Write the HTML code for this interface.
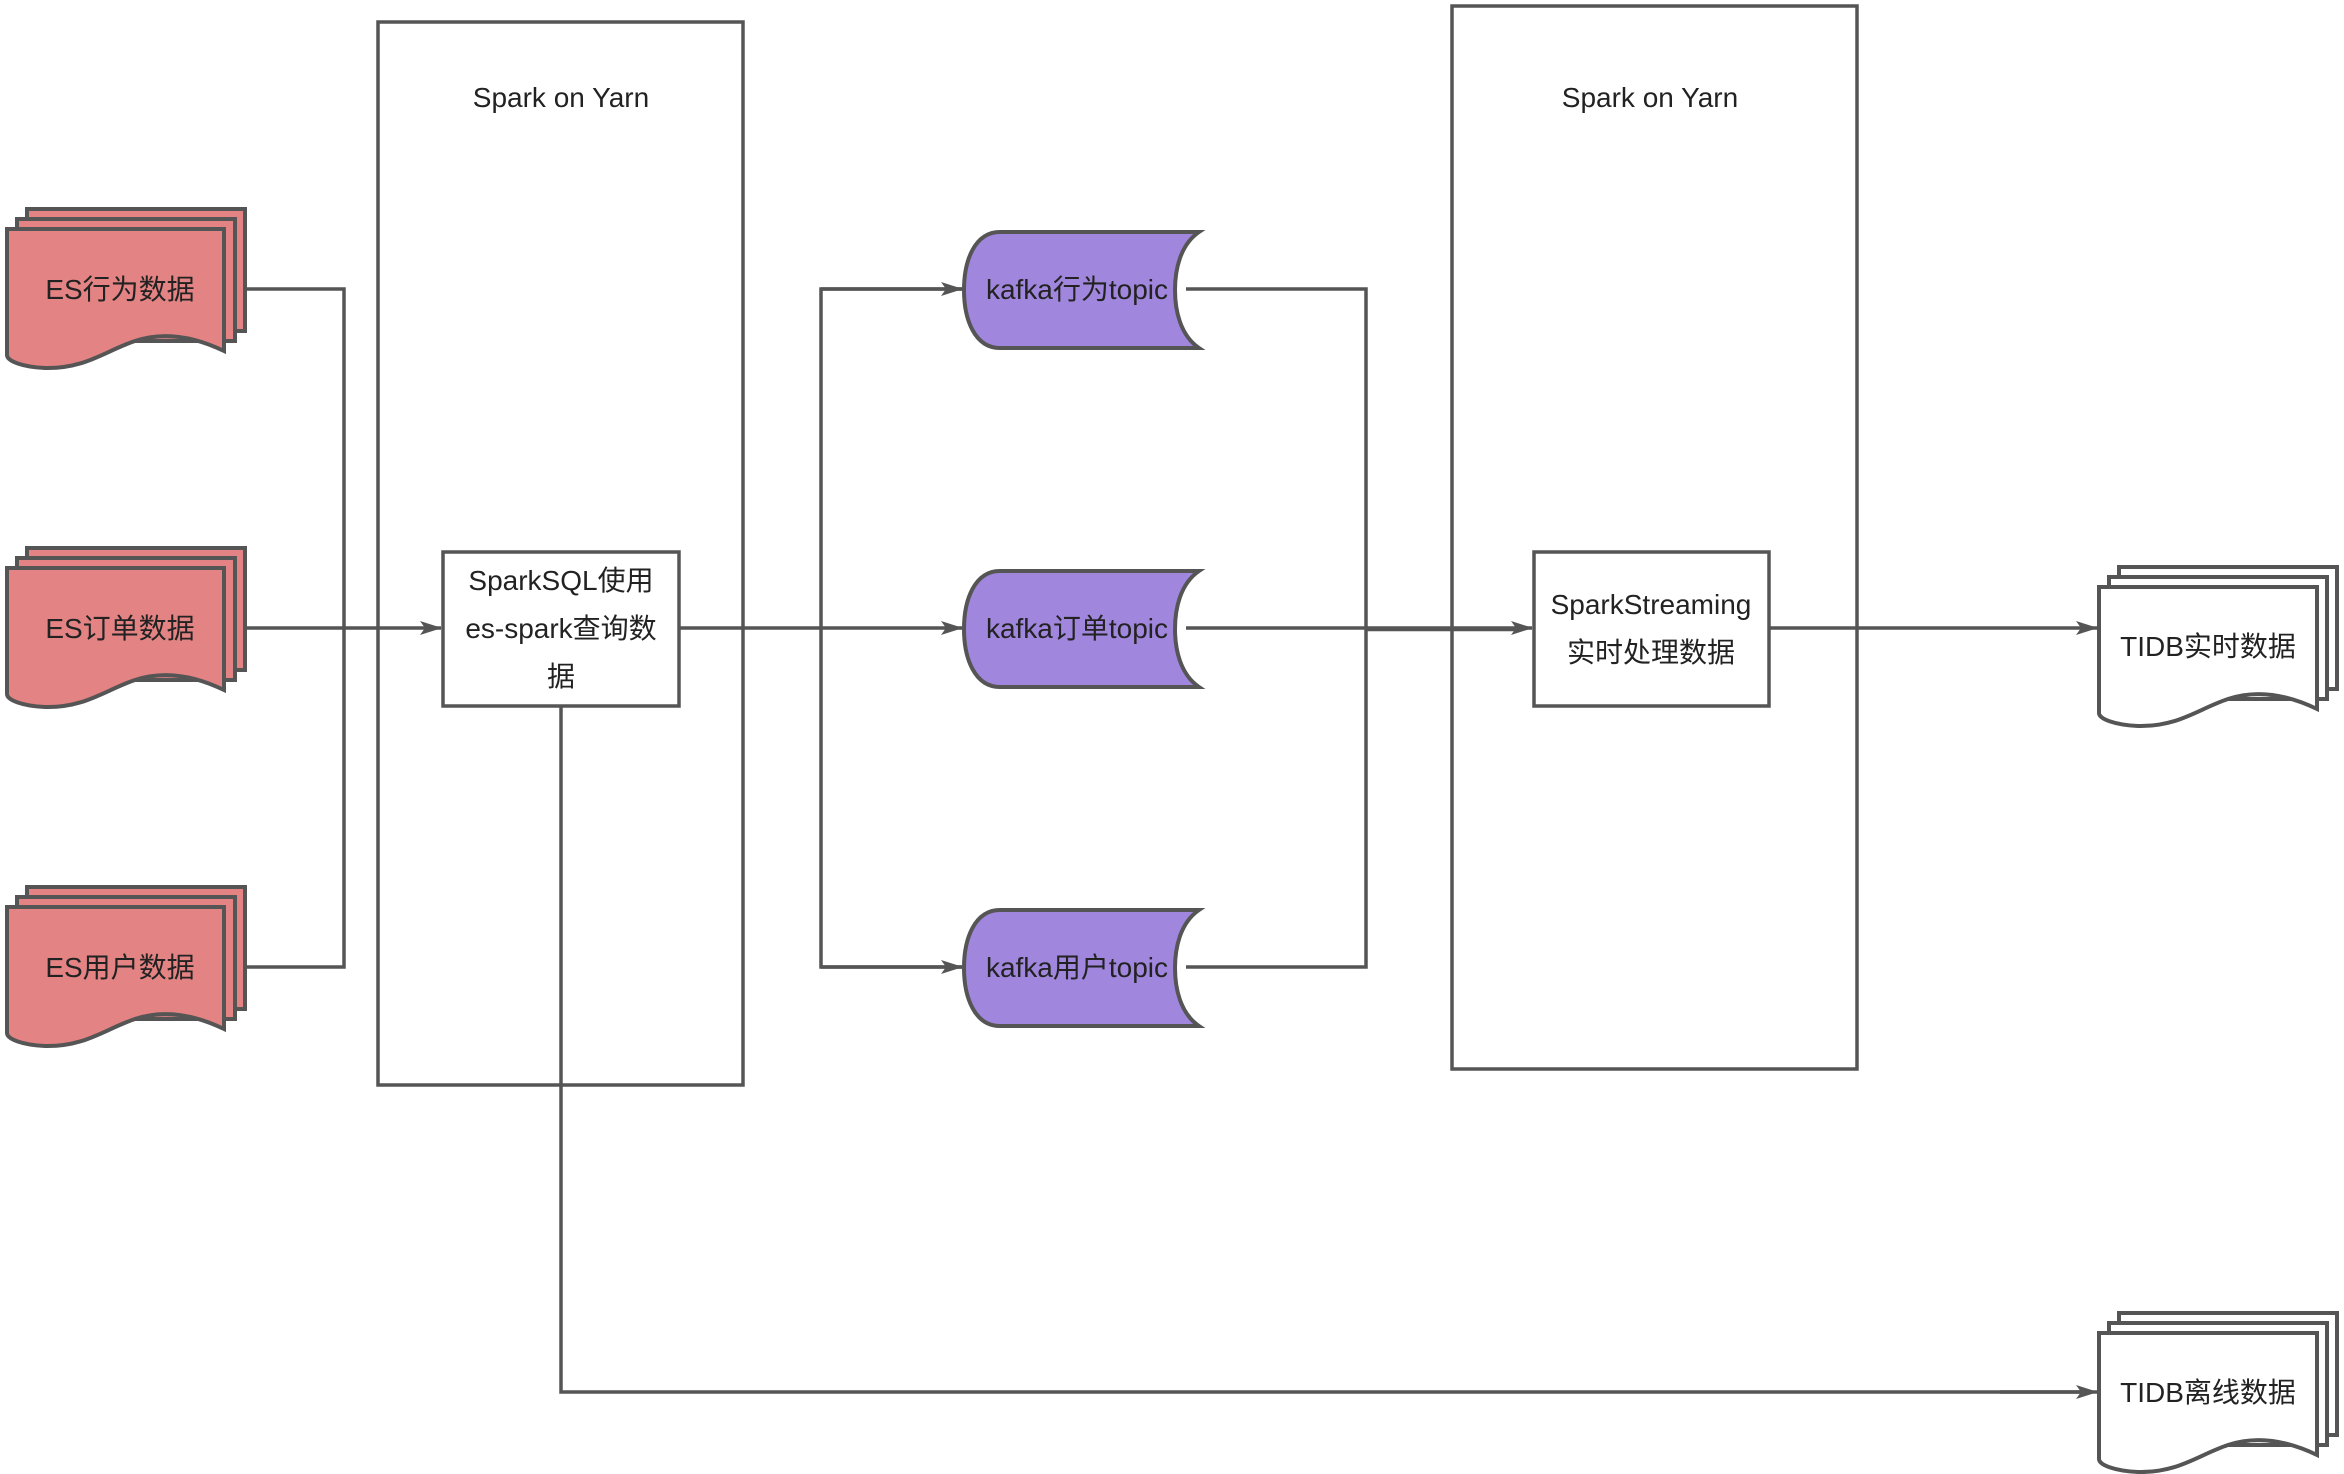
<!DOCTYPE html>
<html><head><meta charset="utf-8"><style>
html,body{margin:0;padding:0;background:#fff;}
svg{display:block;}
text{font-family:"Liberation Sans","Noto Sans CJK SC",sans-serif;font-size:28px;fill:#222;}
</style></head><body>
<svg width="2344" height="1474" viewBox="0 0 2344 1474" xmlns="http://www.w3.org/2000/svg">
<defs>
<marker id="ah" markerWidth="22" markerHeight="16" refX="21" refY="8" orient="auto" markerUnits="userSpaceOnUse" viewBox="0 0 22 16">
<path d="M0,1 L22,8 L0,15 L5,8 Z" fill="#555"/>
</marker>
<g id="docR">
<rect x="27" y="0" width="218" height="122" fill="#e38383" stroke="#555" stroke-width="4"/>
<rect x="17" y="10" width="218" height="122" fill="#e38383" stroke="#555" stroke-width="4"/>
<path d="M7,20 H224 V142 C195,128 165,122 135,132 C105,142 85,160 45,159 C22,158 7,152 7,146 Z" fill="#e38383" stroke="#555" stroke-width="4"/>
</g>
<g id="docW">
<rect x="20" y="0" width="218" height="122" fill="#fff" stroke="#555" stroke-width="4"/>
<rect x="10" y="10" width="218" height="122" fill="#fff" stroke="#555" stroke-width="4"/>
<path d="M0,20 H218 V142 C189,128 159,122 129,132 C99,142 79,160 39,159 C16,158 0,152 0,146 Z" fill="#fff" stroke="#555" stroke-width="4"/>
</g>
<path id="kafka" d="M1000,0 H1199 C1180,13 1175,38 1175,58 C1175,78 1180,103 1199,116 H1000 C975,116 964,88 964,58 C964,28 975,0 1000,0 Z" fill="#a087dd" stroke="#555" stroke-width="4"/>
</defs>

<rect x="378" y="22" width="365" height="1063" fill="none" stroke="#555" stroke-width="3.5"/>
<rect x="1452" y="6" width="405" height="1063" fill="none" stroke="#555" stroke-width="3.5"/>
<text x="561" y="107" text-anchor="middle">Spark on Yarn</text>
<text x="1650" y="107" text-anchor="middle">Spark on Yarn</text>

<use href="#docR" x="0" y="209"/>
<use href="#docR" x="0" y="548"/>
<use href="#docR" x="0" y="887"/>
<text x="120" y="299" text-anchor="middle">ES行为数据</text>
<text x="120" y="638" text-anchor="middle">ES订单数据</text>
<text x="120" y="977" text-anchor="middle">ES用户数据</text>

<g fill="none" stroke="#555" stroke-width="3.5">
<polyline points="245,289 344,289 344,967 245,967"/>
<line x1="245" y1="628" x2="441" y2="628" marker-end="url(#ah)"/>
<polyline points="679,628 821,628"/>
<polyline points="964,289 821,289 821,967 962,967"/>
<line x1="821" y1="289" x2="962" y2="289" marker-end="url(#ah)"/>
<line x1="821" y1="628" x2="962" y2="628" marker-end="url(#ah)"/>
<line x1="821" y1="967" x2="962" y2="967" marker-end="url(#ah)"/>
<polyline points="1186,289 1366,289 1366,967 1186,967"/>
<line x1="1186" y1="628" x2="1532" y2="628" marker-end="url(#ah)"/>
<line x1="1366" y1="629" x2="1520" y2="629" stroke-width="4.5"/>
<line x1="1769" y1="628" x2="2097" y2="628" marker-end="url(#ah)"/>
<polyline points="561,706 561,1392 2080,1392"/>
<line x1="2000" y1="1392" x2="2097" y2="1392" marker-end="url(#ah)"/>
</g>

<rect x="443" y="552" width="236" height="154" fill="#fff" stroke="#555" stroke-width="3.5"/>
<text x="561" y="590" text-anchor="middle">SparkSQL使用</text>
<text x="561" y="638" text-anchor="middle">es-spark查询数</text>
<text x="561" y="686" text-anchor="middle">据</text>

<use href="#kafka" x="0" y="232"/>
<use href="#kafka" x="0" y="571"/>
<use href="#kafka" x="0" y="910"/>
<text x="1077" y="299" text-anchor="middle">kafka行为topic</text>
<text x="1077" y="638" text-anchor="middle">kafka订单topic</text>
<text x="1077" y="977" text-anchor="middle">kafka用户topic</text>

<rect x="1534" y="552" width="235" height="154" fill="#fff" stroke="#555" stroke-width="3.5"/>
<text x="1651" y="614" text-anchor="middle">SparkStreaming</text>
<text x="1651" y="662" text-anchor="middle">实时处理数据</text>

<use href="#docW" x="2099" y="567"/>
<use href="#docW" x="2099" y="1313"/>
<text x="2208" y="656" text-anchor="middle">TIDB实时数据</text>
<text x="2208" y="1402" text-anchor="middle">TIDB离线数据</text>
</svg>
</body></html>
